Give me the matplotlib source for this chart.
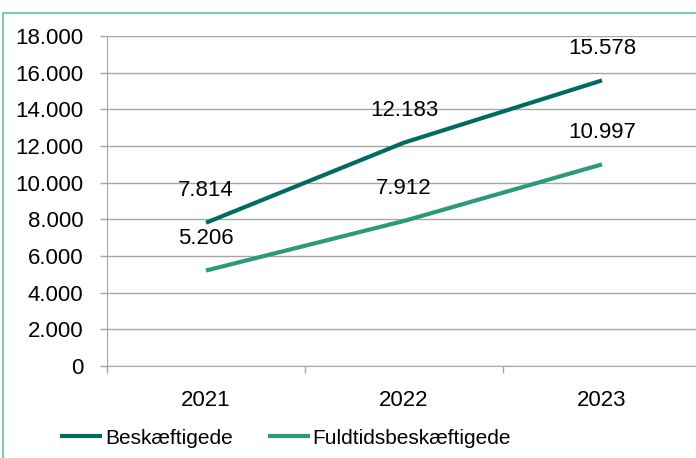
import matplotlib.pyplot as plt
from matplotlib.patches import Rectangle

years = ['2021', '2022', '2023']
beskaeftigede = [7814, 12183, 15578]
fuldtid = [5206, 7912, 10997]
yticks = [0, 2000, 4000, 6000, 8000, 10000, 12000, 14000, 16000, 18000]

plt.rcParams['font.family'] = ['Liberation Sans', 'DejaVu Sans']

W, H = 696, 458
fig = plt.figure(figsize=(W / 100, H / 100), dpi=100)

# light teal frame around the chart (cut at right and bottom)
fig.patches.append(Rectangle((3 / W, -0.1), 1.2, (H - 13) / H + 0.1, transform=fig.transFigure,
                             fill=False, edgecolor='#6fc4ad', linewidth=1.3))

ax = fig.add_axes([107 / W, 92 / H, 594 / W, 330 / H])
x = list(range(len(years)))

ax.plot(x, beskaeftigede, color='#006b62', lw=3, label='Beskæftigede', solid_capstyle='butt')
ax.plot(x, fuldtid, color='#2b9a7b', lw=3, label='Fuldtidsbeskæftigede', solid_capstyle='butt')

fs = 16
for xi, v in zip(x, beskaeftigede):
    ax.annotate(f'{v:,}'.replace(',', '.'), (xi, v), xytext=(0, 32), textcoords='offset pixels',
                ha='center', va='center', fontsize=fs)
for xi, v in zip(x, fuldtid):
    ax.annotate(f'{v:,}'.replace(',', '.'), (xi, v), xytext=(0, 32), textcoords='offset pixels',
                ha='center', va='center', fontsize=fs)

ax.set_xlim(-0.5, 2.5)
ax.set_ylim(0, 18000)
ax.set_yticks(yticks)
ax.set_yticklabels([f'{t:,}'.replace(',', '.') for t in yticks], fontsize=fs)
ax.set_xticks(x)
ax.set_xticklabels(years, fontsize=fs)
ax.set_xticks([-0.5, 0.5, 1.5, 2.5], minor=True)
ax.tick_params(axis='x', which='major', length=0, pad=17)
ax.tick_params(axis='x', which='minor', length=5, color='#a6a6a6', width=1)
ax.tick_params(axis='y', length=5, color='#a6a6a6', width=1, pad=12)
ax.grid(axis='y', color='#a6a6a6', lw=1)
ax.set_axisbelow(True)
for s in ['top', 'right']:
    ax.spines[s].set_visible(False)
for s in ['left', 'bottom']:
    ax.spines[s].set_color('#a6a6a6')

ax.legend(loc='center left', bbox_to_anchor=(60 / W, 20 / H), bbox_transform=fig.transFigure,
          ncol=2, frameon=False, fontsize=15, handlelength=2.0, handletextpad=0.15,
          columnspacing=1.7, borderpad=0, borderaxespad=0)

fig.savefig('out.png', dpi=100)
